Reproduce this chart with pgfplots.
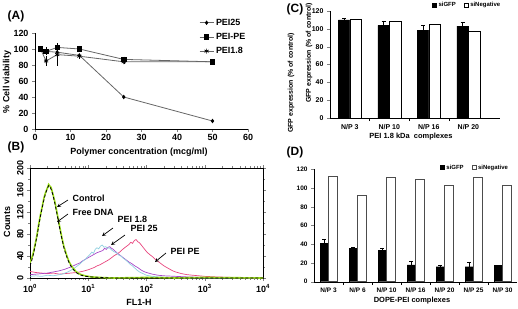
\documentclass[border=0pt]{standalone}
\usepackage{pgfplots}
\pgfplotsset{compat=1.18}
\usepackage{fontspec}
\setmainfont{Liberation Sans}
\definecolor{ctrlgreen}{HTML}{9ADC1A}
\definecolor{cyanc}{HTML}{8FCFDF}
\definecolor{violetc}{HTML}{A848C8}
\definecolor{pinkc}{HTML}{E8457E}
\definecolor{linegray}{HTML}{666666}
\newcommand{\fs}[1]{\bfseries\fontsize{#1}{#1}\selectfont}
\begin{document}
\begin{tikzpicture}[x=1bp,y=1bp]
\useasboundingbox (0,0) rectangle (518,308);

%---------------- Panel A ----------------
\begin{axis}[
  at={(35bp,179bp)}, anchor=south west, scale only axis,
  width=213bp, height=96bp,
  xmin=0, xmax=60, ymin=0, ymax=120,
  xtick={0,10,...,60}, ytick={0,20,...,120},
  axis x line*=bottom, axis y line*=left, axis line style={-},
  tick align=outside, major tick length=3bp,
  /pgf/number format/assume math mode=true,
  ticklabel style={font=\fs{9}},
  xticklabel style={yshift=1bp},
  legend style={at={(axis description cs:0.77,1.17)}, anchor=north west,
     draw=none, fill=none, font=\fs{9}, inner sep=0pt, row sep=2.5bp,
     cells={anchor=west}},
  legend image code/.code={\draw[#1, mark repeat=2, mark phase=2] plot coordinates {(0bp,0bp) (7bp,0bp) (14bp,0bp)};},
  error bars/error bar style={black, line width=0.5pt},
  error bars/error mark options={mark size=1.5bp, black},
]
\addplot[linegray, line width=0.8pt, mark=diamond*, mark size=1.6bp,
  mark options={black, fill=black}] coordinates {
  (1.5625,100) (3.125,97) (6.25,96) (12.5,92) (25,40) (50,10)};
\addlegendentry{PEI25}
\addplot[linegray, line width=0.8pt, mark=square*, mark size=2.2bp,
  mark options={black, fill=black},
  error bars/.cd, y dir=both, y explicit] coordinates {
  (1.5625,100) +- (0,1.5) (3.125,97) +- (0,3) (6.25,102) +- (0,2)
  (12.5,100) +- (0,2) (25,87) +- (0,1.5) (50,84) +- (0,1.5)};
\addlegendentry{PEI-PE}
\addplot[linegray, line width=0.8pt, mark=asterisk, mark size=2.4bp,
  mark options={black, line width=0.7pt},
  error bars/.cd, y dir=both, y explicit] coordinates {
  (1.5625,100) +- (0,1) (3.125,85) +- (0,4) (6.25,93) +- (0,12)
  (12.5,91) +- (0,1.5) (25,84) +- (0,1) (50,84) +- (0,1)};
\addlegendentry{PEI1.8}
\end{axis}
\node[font=\fs{12}] at (16,292) {(A)};
\node[font=\fs{9}, rotate=90] at (7,226) {\% Cell viability};
\node[font=\fs{9}] at (139,156) {Polymer concentration (mcg/ml)};

%---------------- Panel B ----------------
\begin{axis}[
  at={(30bp,30bp)}, anchor=south west, scale only axis,
  width=233bp, height=110bp,
  xmin=0, xmax=4, ymin=0, ymax=200,
  xtick={0,1,2,3,4},
  xticklabels={10\textsuperscript{0},10\textsuperscript{1},10\textsuperscript{2},10\textsuperscript{3},10\textsuperscript{4}},
  minor xtick={0.301,0.477,0.602,0.699,0.778,0.845,0.903,0.954,
               1.301,1.477,1.602,1.699,1.778,1.845,1.903,1.954,
               2.301,2.477,2.602,2.699,2.778,2.845,2.903,2.954,
               3.301,3.477,3.602,3.699,3.778,3.845,3.903,3.954},
  ytick={0,40,...,200}, minor ytick={20,60,...,180},
  tick align=outside, major tick length=3bp, minor tick length=1.8bp,
  /pgf/number format/assume math mode=true,
  ticklabel style={font=\fs{9}},
  yticklabel style={rotate=90, anchor=south},
  axis line style={line width=0.6pt},
]
\addplot[pinkc, line width=0.7pt] coordinates {
 (0,12) (0.1,10) (0.2,9) (0.3,8) (0.4,9) (0.5,7) (0.6,8) (0.7,9) (0.8,10) (0.9,12)
 (1.0,15) (1.05,17) (1.1,19) (1.15,22) (1.2,24) (1.25,27) (1.3,30) (1.35,33) (1.4,37)
 (1.45,41) (1.5,44) (1.55,48) (1.6,53) (1.65,57) (1.7,61) (1.73,65) (1.76,63) (1.79,68)
 (1.82,70) (1.85,66) (1.88,64) (1.91,60) (1.94,56) (1.97,52) (2.0,48) (2.05,43) (2.1,39)
 (2.15,34) (2.2,30) (2.25,26) (2.3,22) (2.35,19) (2.4,16) (2.45,13) (2.5,11) (2.6,8)
 (2.7,6) (2.8,5) (2.9,4) (3.0,3) (3.2,2) (3.5,1) (3.8,0) (4,0)};
\addplot[violetc, line width=0.7pt] coordinates {
 (0,6) (0.1,7) (0.2,8) (0.3,9) (0.4,11) (0.5,13) (0.6,16) (0.7,20) (0.8,25) (0.85,27)
 (0.9,31) (0.95,34) (1.0,37) (1.05,40) (1.1,43) (1.15,46) (1.2,48) (1.25,50) (1.28,54)
 (1.31,52) (1.34,56) (1.37,57) (1.40,54) (1.43,52) (1.46,49) (1.50,45) (1.55,41)
 (1.60,37) (1.65,33) (1.70,29) (1.75,26) (1.80,22) (1.85,19) (1.90,15) (1.95,12)
 (2.0,10) (2.1,7) (2.2,5) (2.3,4) (2.5,3) (2.7,2) (3.0,1) (3.4,1) (4,0)};
\addplot[cyanc, line width=0.7pt] coordinates {
 (0,3) (0.1,4) (0.2,3) (0.3,5) (0.4,4) (0.5,6) (0.55,7) (0.6,9) (0.65,11) (0.7,14)
 (0.75,17) (0.8,21) (0.85,25) (0.9,30) (0.95,34) (1.0,40) (1.03,43) (1.06,47) (1.09,45)
 (1.12,52) (1.15,55) (1.18,53) (1.21,58) (1.24,60) (1.27,56) (1.30,57) (1.33,54)
 (1.36,55) (1.40,51) (1.44,48) (1.48,46) (1.52,42) (1.56,40) (1.60,36) (1.64,33)
 (1.68,29) (1.72,25) (1.76,22) (1.80,18) (1.84,14) (1.88,11) (1.92,9) (1.96,7)
 (2.0,5) (2.1,3) (2.2,2) (2.4,1) (2.7,0) (4,0)};
\addplot[ctrlgreen, line width=1.6pt] coordinates {
 (0,28) (0.03,36) (0.06,47) (0.09,62) (0.12,78) (0.15,98) (0.18,115) (0.21,130)
 (0.24,146) (0.27,156) (0.30,164) (0.32,170) (0.34,167) (0.36,165) (0.38,158)
 (0.40,150) (0.43,137) (0.46,121) (0.49,104) (0.52,88) (0.55,72) (0.58,58) (0.61,48)
 (0.64,38) (0.67,30) (0.70,24) (0.74,18) (0.78,13) (0.82,9) (0.88,6) (0.95,4)
 (1.05,2) (1.2,1) (1.4,0) (2,1) (2.5,0) (3,1) (4,0)};
\addplot[black, line width=0.8pt, dash pattern=on 3bp off 2bp] coordinates {
 (0,22) (0.03,32) (0.06,44) (0.09,60) (0.12,76) (0.15,95) (0.18,113) (0.21,128)
 (0.24,143) (0.27,155) (0.30,163) (0.32,168) (0.34,166) (0.36,162) (0.38,156)
 (0.40,148) (0.43,134) (0.46,118) (0.49,101) (0.52,85) (0.55,70) (0.58,56) (0.61,45)
 (0.64,36) (0.67,28) (0.70,22) (0.74,16) (0.78,11) (0.82,8) (0.88,5) (0.95,3)
 (1.05,2) (1.2,1) (1.4,0) (4,0)};
\end{axis}
\node[font=\fs{12}] at (16,161) {(B)};
\node[font=\fs{9}, rotate=90] at (7,86) {Counts};
\node[font=\fs{9}] at (139,6) {FL1-H};
\begin{scope}[font=\fs{9}, ->, >=stealth, line width=0.7pt]
\draw (68,108) -- (57,101);
\node[anchor=west] at (69,110) {Control};
\draw (68,94) -- (57,86);
\node[anchor=west] at (69,96) {Free DNA};
\draw (113,80) -- (102,72);
\node[anchor=west] at (114,89) {PEI 1.8};
\draw (125,73) -- (111,63);
\node[anchor=west] at (127,80) {PEI 25};
\draw (166,55) -- (155,46);
\node[anchor=west] at (167,57) {PEI PE};
\end{scope}

%---------------- Panel C ----------------
\begin{axis}[
  at={(330bp,190bp)}, anchor=south west, scale only axis,
  width=170bp, height=107bp,
  xmin=-0.5, xmax=3.8, ymin=0, ymax=120,
  ytick={0,20,...,120}, xtick={0,1,2,3},
  xticklabels={N/P 3, N/P 10, N/P 16, N/P 20},
  minor xtick={0.5,1.5,2.5},
  axis x line*=bottom, axis y line*=left, axis line style={-},
  tick align=outside, major tick length=3bp, minor tick length=3bp,
  x tick style={draw=none}, minor x tick style={draw=black},
  /pgf/number format/assume math mode=true,
  ticklabel style={font=\fs{7}},
  ybar=0pt, bar width=11.5bp,
  legend style={at={(axis description cs:0.6,1.1)}, anchor=north west,
     draw=none, fill=none, font=\fs{6}, inner sep=0pt, legend columns=2,
     /tikz/every even column/.append style={column sep=6bp}},
  legend image code/.code={\draw[#1, line width=0.4pt] (0bp,-2bp) rectangle (4bp,2bp);},
]
\addplot[fill=black, draw=black,
  error bars/.cd, y dir=plus, y explicit, error bar style={black, line width=0.5pt}]
  coordinates {(0,110) +- (0,2) (1,104) +- (0,5) (2,98) +- (0,6) (3,103) +- (0,4)};
\addlegendentry{siGFP}
\addplot[fill=white, draw=black, line width=0.5pt]
  coordinates {(0,111) (1,108) (2,105) (3,97)};
\addlegendentry{siNegative}
\end{axis}
\node[font=\fs{12}] at (295,299) {(C)};
\node[font=\fs{7}, rotate=90] at (309,255) {GFP expression (\% of control)};
\node[font=\fs{7.5}] at (411,171) {PEI 1.8 kDa\ \ complexes};

%---------------- Panel D ----------------
\begin{axis}[
  at={(314bp,26.3bp)}, anchor=south west, scale only axis,
  width=203bp, height=112.4bp,
  xmin=-0.5, xmax=6.5, ymin=0, ymax=120,
  ytick={0,20,...,120}, xtick={0,...,6},
  xticklabels={N/P 3, N/P 6, N/P 10, N/P 16, N/P 20, N/P 25, N/P 30},
  minor xtick={0.5,1.5,...,5.5},
  axis x line*=bottom, axis y line*=left, axis line style={-},
  tick align=outside, major tick length=3bp, minor tick length=3bp,
  x tick style={draw=none}, minor x tick style={draw=black},
  /pgf/number format/assume math mode=true,
  ticklabel style={font=\fs{6.5}},
  ybar=0pt, bar width=8.5bp,
  legend style={at={(axis description cs:0.62,1.06)}, anchor=north west,
     draw=none, fill=none, font=\fs{6}, inner sep=0pt, legend columns=2,
     /tikz/every even column/.append style={column sep=6bp}},
  legend image code/.code={\draw[#1, line width=0.4pt] (0bp,-2bp) rectangle (4bp,2bp);},
]
\addplot[fill=black, draw=black,
  error bars/.cd, y dir=plus, y explicit, error bar style={black, line width=0.5pt}]
  coordinates {(0,41) +- (0,4.5) (1,35.5) +- (0,1) (2,33.5) +- (0,2.5) (3,18) +- (0,4)
  (4,16) +- (0,1.5) (5,16) +- (0,5) (6,17.5) +- (0,0.3)};
\addlegendentry{siGFP}
\addplot[fill=white, draw=black!70, line width=0.5pt]
  coordinates {(0,112.5) (1,92) (2,112) (3,109.5) (4,103.5) (5,112) (6,103)};
\addlegendentry{siNegative}
\end{axis}
\node[font=\fs{12}] at (295,156) {(D)};
\node[font=\fs{7}, rotate=90] at (291,225) {GFP expression (\% of control)};
\node[font=\fs{7.5}] at (412,7) {DOPE-PEI complexes};
\end{tikzpicture}
\end{document}
